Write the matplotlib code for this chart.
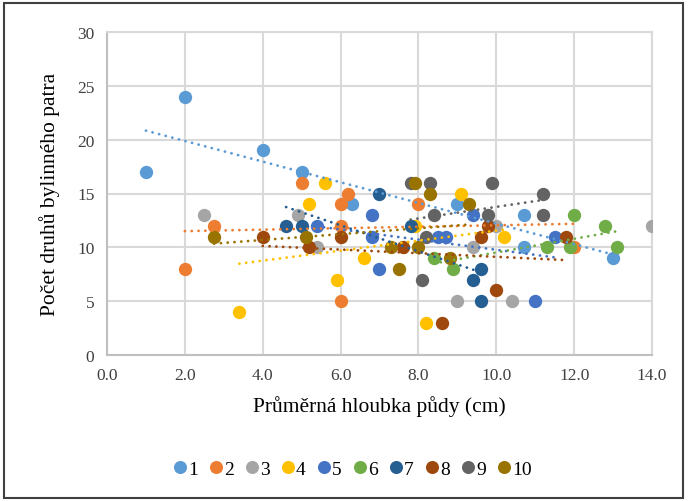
import numpy as np
import matplotlib
matplotlib.use("Agg")
import matplotlib.pyplot as plt
from matplotlib.patches import Rectangle
from matplotlib.lines import Line2D

plt.rcParams['font.family'] = ['Liberation Serif', 'DejaVu Serif']

# Average soil depth (cm) vs. number of herb-layer species, per locality group
labels = ["1", "2", "3", "4", "5", "6", "7", "8", "9", "10"]
colors = ["#5B9BD5", "#ED7D31", "#A5A5A5", "#FFC000", "#4472C4",
          "#70AD47", "#255E91", "#9E480E", "#636363", "#997300"]

x1 = [1, 2, 4, 5, 6.3, 9, 10.7, 10.7, 13]
y1 = [17, 24, 19, 17, 14, 14, 13, 10, 9]
x2 = [2, 2.75, 5, 6.2, 6, 6, 6, 8, 12]
y2 = [8, 12, 16, 15, 14, 12, 5, 14, 10]
x3 = [2.5, 4.9, 5.4, 9, 9.4, 10, 10.4, 14]
y3 = [13, 13, 10, 5, 10, 12, 5, 12]
x4 = [3.4, 5.2, 5.6, 5.9, 6.6, 7.9, 8.2, 9.1, 10.2]
y4 = [4, 14, 16, 7, 9, 12, 3, 15, 11]
x5 = [5.4, 6.8, 6.8, 7, 8.5, 8.7, 9.4, 11, 11.5]
y5 = [12, 13, 11, 8, 11, 11, 13, 5, 11]
x6 = [8.4, 8.9, 11.3, 11.9, 12, 12.8, 13.1]
y6 = [9, 8, 10, 10, 13, 12, 10]
x7 = [4.6, 5, 7, 7.8, 9.4, 9.6, 9.6]
y7 = [12, 12, 15, 12, 7, 8, 5]
x8 = [4, 5.2, 6, 7.6, 8.6, 9.6, 9.8, 10, 11.8]
y8 = [11, 10, 11, 10, 3, 11, 12, 6, 11]
x9 = [7.8, 8.1, 8.2, 8.3, 8.4, 9.8, 9.9, 11.2, 11.2]
y9 = [16, 7, 11, 16, 13, 13, 16, 15, 13]
x10 = [2.75, 5.1, 7.3, 7.5, 7.9, 8, 8.3, 8.8, 9.3]
y10 = [11, 11, 10, 8, 16, 10, 15, 9, 14]

xs = [x1, x2, x3, x4, x5, x6, x7, x8, x9, x10]
ys = [y1, y2, y3, y4, y5, y6, y7, y8, y9, y10]
# series that carry a linear trendline
with_trend = [True, True, False, True, True, True, True, True, True, True]

W, H = 688, 502
fig = plt.figure(figsize=(W / 100, H / 100), dpi=100)
ax = fig.add_axes([107 / W, 1 - 356 / H, (652 - 107) / W, (356 - 33) / H])

for x, y, c in zip(xs, ys, colors):
    ax.plot(x, y, linestyle="none", marker="o", markersize=9.6,
            markerfacecolor=c, markeredgecolor=c, markeredgewidth=0, zorder=3)

for x, y, c, t in zip(xs, ys, colors, with_trend):
    if not t:
        continue
    k, q = np.polyfit(x, y, 1)
    xx = np.array([min(x), max(x)])
    ax.plot(xx, k * xx + q, color=c, linewidth=2.0,
            linestyle=(0, (0.05, 2.4)), dash_capstyle="round", zorder=4)

ax.set_xlim(0, 14)
ax.set_ylim(0, 30)
ax.set_xticks(np.arange(0, 14.1, 2))
ax.set_yticks(np.arange(0, 31, 5))
ax.xaxis.set_major_formatter(matplotlib.ticker.FormatStrFormatter("%.1f"))
ax.grid(True, color="#D9D9D9", linewidth=1.5, zorder=0)
ax.set_axisbelow(True)
for s in ax.spines.values():
    s.set_color("#D9D9D9")
    s.set_linewidth(1.5)
ax.spines["left"].set_color("#BFBFBF")
ax.spines["bottom"].set_color("#BFBFBF")
ax.tick_params(length=0, labelsize=12.5, colors="#404040", pad=9)

ax.set_xlabel("Průměrná hloubka půdy (cm)", fontsize=15.5, color="black", labelpad=8)
ax.set_ylabel("Počet druhů bylinného patra", fontsize=15.5, color="black", labelpad=12)

handles = [Line2D([], [], linestyle="none", marker="o", markersize=9.4,
                  markerfacecolor=c, markeredgewidth=0) for c in colors]
fig.legend(handles, labels, loc="center", bbox_to_anchor=(0.51, 1 - 470 / H),
           ncol=10, frameon=False, fontsize=14, handletextpad=-0.1,
           columnspacing=0.45, handlelength=1.0)

fig.patches.append(Rectangle((4 / W, 3 / H), (W - 9) / W, (H - 7) / H,
                             transform=fig.transFigure, fill=False,
                             edgecolor="#3F3F3F", linewidth=1.5))

fig.savefig("out.png", dpi=100)
